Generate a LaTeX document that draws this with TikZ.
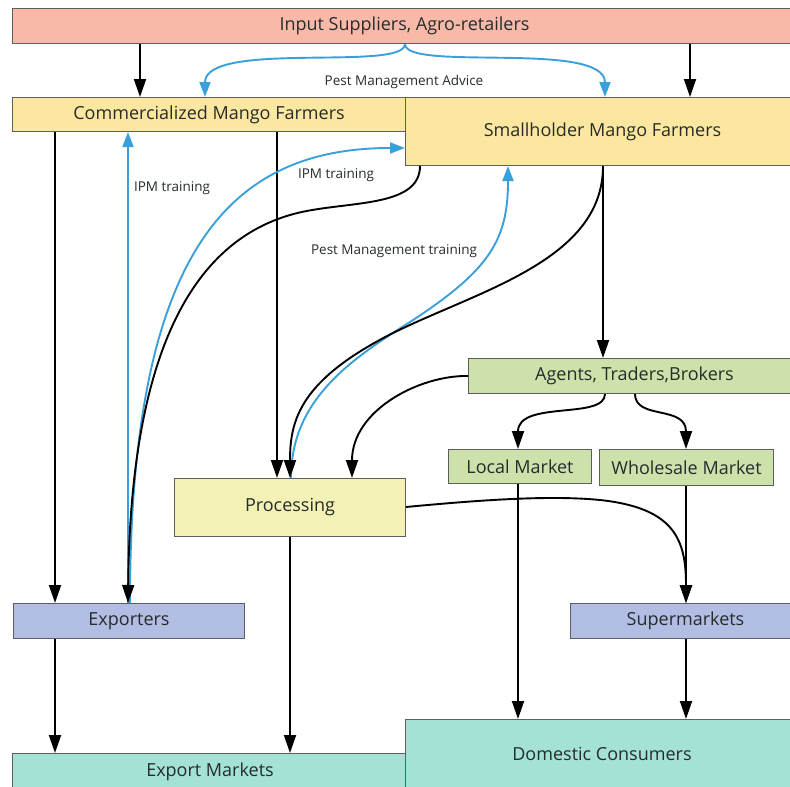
\documentclass[tikz,border=0pt]{standalone}
\usepackage{fontspec}
\setmainfont{Open Sans}
\usetikzlibrary{arrows.meta}
\definecolor{salmon}{HTML}{F9B9A9}
\definecolor{gold}{HTML}{FCE7A0}
\definecolor{paleyel}{HTML}{F3F1B6}
\definecolor{pgreen}{HTML}{CDE2AB}
\definecolor{lav}{HTML}{B2BDE3}
\definecolor{teal}{HTML}{A5E2D6}
\definecolor{bline}{HTML}{3AA0DB}
\definecolor{txt}{HTML}{262C2C}
\definecolor{edge}{HTML}{5E5E5E}
\tikzset{
  box/.style={rectangle, draw=edge, line width=1pt, inner sep=0pt, anchor=north west,
    text=txt, font=\fontsize{18}{20}\selectfont},
  lbl/.style={text=txt, font=\fontsize{13.5}{15}\selectfont, inner sep=1pt},
  arr/.style={line width=1.9pt, black, -{Triangle[length=18pt,width=12pt]}},
  barr/.style={line width=1.9pt, bline, -{Triangle[length=15pt,width=11pt]}}
}
\begin{document}
\begin{tikzpicture}[x=1pt,y=-1pt]
\useasboundingbox (0,0) rectangle (790,787);
% boxes
\node[box, fill=salmon, minimum width=780pt, minimum height=35pt] (inp) at (12,8) {\hspace*{4pt}Input Suppliers, Agro-retailers};
\node[box, fill=gold, minimum width=393pt, minimum height=34pt] (comm) at (12,97) {Commercialized Mango Farmers};
\node[box, fill=gold, minimum width=388pt, minimum height=68pt] (small) at (405,97) {\hspace*{6pt}Smallholder Mango Farmers};
\node[box, fill=pgreen, minimum width=325pt, minimum height=35pt] (agents) at (468,358) {\hspace*{7pt}Agents, Traders,Brokers};
\node[box, fill=pgreen, minimum width=143pt, minimum height=34pt] (local) at (448,449) {Local Market};
\node[box, fill=pgreen, minimum width=174pt, minimum height=36pt] (whole) at (599,449) {Wholesale Market};
\node[box, fill=paleyel, minimum width=231pt, minimum height=58pt] (proc) at (174,478) {Processing};
\node[box, fill=lav, minimum width=231pt, minimum height=35pt] (exp) at (13,603) {Exporters};
\node[box, fill=lav, minimum width=223pt, minimum height=35pt] (sup) at (570,603) {\hspace*{7pt}Supermarkets};
\node[box, fill=teal, minimum width=393pt, minimum height=36pt] (expm) at (12,753) {\hspace*{2pt}Export Markets};
\node[box, fill=teal, minimum width=388pt, minimum height=70pt] (dom) at (405,719) {\hspace*{5pt}\raisebox{2pt}{Domestic Consumers}};
% straight black arrows
\draw[arr] (140,0 |- inp.south) -- (140,0 |- comm.north);
\draw[arr] (690,0 |- inp.south) -- (690,0 |- small.north);
\draw[arr] (55,0 |- comm.south) -- (55,0 |- exp.north);
\draw[arr] (277,0 |- comm.south) -- (277,0 |- proc.north);
\draw[arr] (603,0 |- small.south) -- (603,0 |- agents.north);
\draw[arr] (518,0 |- local.south) -- (518,0 |- dom.north);
\draw[arr] (686,0 |- whole.south) -- (686,0 |- sup.north);
\draw[arr] (55,0 |- exp.south) -- (55,0 |- expm.north);
\draw[arr] (290,0 |- proc.south) -- (290,0 |- expm.north);
\draw[arr] (686,0 |- sup.south) -- (686,0 |- dom.north);
% blue advice arrows
\draw[barr] (405,0 |- inp.south) .. controls (405,72) and (205,40) .. (205,0 |- comm.north);
\draw[barr] (405,0 |- inp.south) .. controls (405,72) and (605,40) .. (605,0 |- small.north);
\node[lbl] (advice) at (404,82) {Pest Management Advice};
% blue training arrows
\draw[barr] (128,0 |- exp.north) -- (128,0 |- comm.south);
\draw[barr] (130,0 |- exp.north) .. controls (130,250) and (230,148) .. (small.west |- 0,148);
\draw[barr] (291,0 |- proc.north) .. controls (291,400) and (350,360) .. (410,322)
   .. controls (490,270) and (508,240) .. (508,0 |- small.south);
\node[lbl] (ipm1) at (172,188) {IPM training};
\node[lbl] (ipm2) at (336,175) {IPM training};
\node[lbl] (pmt) at (394,251) {Pest Management training};
% black curves
\draw[arr] (420,0 |- small.south) .. controls (420,210) and (340,200) .. (290,215)
   .. controls (170,250) and (130,400) .. (128,0 |- exp.north);
\draw[arr] (603,0 |- small.south) .. controls (603,260) and (480,290) .. (393,333)
   .. controls (300,380) and (290,420) .. (290,0 |- proc.north);
\draw[arr] (agents.west) .. controls (420,375) and (352,410) .. (352,0 |- proc.north);
\draw[arr] (605,0 |- agents.south) .. controls (605,420) and (518,400) .. (518,0 |- local.north);
\draw[arr] (635,0 |- agents.south) .. controls (635,420) and (686,405) .. (686,0 |- whole.north);
\draw[arr] (proc.east |- 0,507) .. controls (480,500) and (550,495) .. (600,500)
   .. controls (675,508) and (686,540) .. (686,0 |- sup.north);
\end{tikzpicture}
\end{document}
